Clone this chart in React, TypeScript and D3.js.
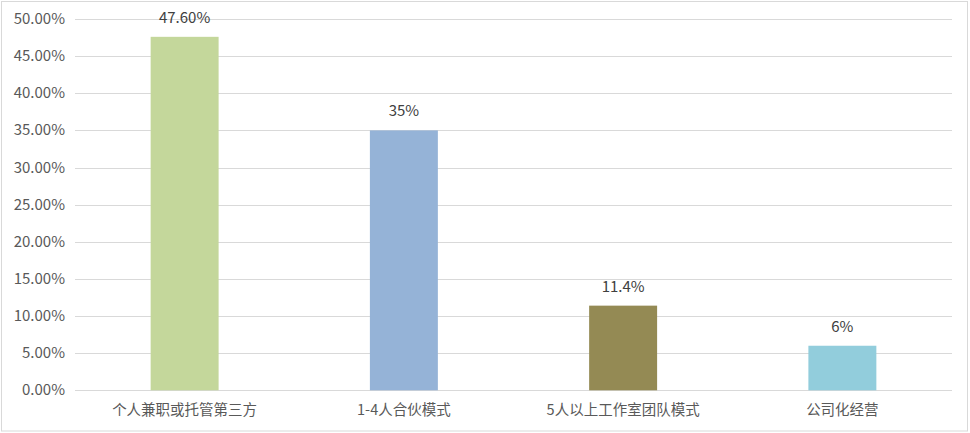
import * as d3 from "d3";
import { useEffect, useRef } from "react";

const categories = ["个人兼职或托管第三方", "1-4人合伙模式", "5人以上工作室团队模式", "公司化经营"];
const values = [47.6, 35, 11.4, 6];
const valueLabels = ["47.60%", "35%", "11.4%", "6%"];
const colors = ["#C4D79B", "#95B3D7", "#948A54", "#92CDDC"];
const yTicks = [0, 5, 10, 15, 20, 25, 30, 35, 40, 45, 50];

const App = () => {
  const ref = useRef<SVGSVGElement>(null);

  useEffect(() => {
    if (!ref.current) return;
    const svg = d3.select(ref.current);
    svg.selectAll("*").remove();

    const width = 970;
    const height = 433;
    const left = 75;
    const right = 952;
    const top = 19;
    const bottom = 390.3;
    const font = "'Noto Sans CJK SC', 'Microsoft YaHei', sans-serif";
    const textColor = "#595959";

    svg.attr("width", width).attr("height", height);

    // outer frame
    svg
      .append("rect")
      .attr("x", 1.5)
      .attr("y", 1.5)
      .attr("width", width - 4)
      .attr("height", height - 3.5)
      .attr("fill", "white")
      .attr("stroke", "#d9d9d9");

    const x = d3.scaleBand<string>().domain(categories).range([left, right]).paddingInner(0.69).paddingOuter(0.345);
    const y = d3.scaleLinear().domain([0, 50]).range([bottom, top]);

    // gridlines + tick labels
    const g = svg.append("g");
    g.selectAll("line.grid")
      .data(yTicks)
      .join("line")
      .attr("x1", left)
      .attr("x2", right)
      .attr("y1", (d) => Math.round(y(d)) + 0.5)
      .attr("y2", (d) => Math.round(y(d)) + 0.5)
      .attr("stroke", "#d9d9d9");

    g.selectAll("text.tick")
      .data(yTicks)
      .join("text")
      .attr("x", 65)
      .attr("y", (d) => y(d) + 5)
      .attr("text-anchor", "end")
      .style("font-family", font)
      .style("font-size", "15px")
      .attr("fill", textColor)
      .text((d) => d3.format(".2f")(d) + "%");

    // bars
    g.selectAll("rect.bar")
      .data(values)
      .join("rect")
      .attr("x", (d, i) => x(categories[i])!)
      .attr("y", (d) => y(d))
      .attr("width", x.bandwidth())
      .attr("height", (d) => bottom - y(d))
      .attr("fill", (d, i) => colors[i]);

    // value labels
    g.selectAll("text.val")
      .data(values)
      .join("text")
      .attr("x", (d, i) => x(categories[i])! + x.bandwidth() / 2)
      .attr("y", (d) => y(d) - 14)
      .attr("text-anchor", "middle")
      .style("font-family", font)
      .style("font-size", "15px")
      .attr("fill", "#404040")
      .text((d, i) => valueLabels[i]);

    // category labels
    g.selectAll("text.cat")
      .data(categories)
      .join("text")
      .attr("x", (d) => x(d)! + x.bandwidth() / 2)
      .attr("y", 415)
      .attr("text-anchor", "middle")
      .style("font-family", font)
      .style("font-size", "14.5px")
      .attr("fill", textColor)
      .text((d) => d);
  }, []);

  return (
    <div style={{ position: "fixed", left: 0, top: 0, background: "white" }}>
      <svg ref={ref} style={{ display: "block" }} />
    </div>
  );
};

export default App;
